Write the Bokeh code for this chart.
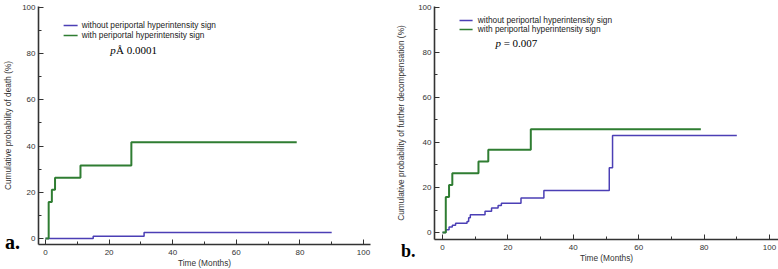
from bokeh.plotting import figure
from bokeh.layouts import row
from bokeh.models import SingleIntervalTicker, Div
from bokeh.core.properties import value
from bokeh.embed import file_html
from bokeh.resources import INLINE

# ---------------- data ----------------
# Panel a: cumulative probability of death (%)
a_without_t = [0, 15, 31, 90]
a_without_v = [0, 1.0, 2.6, 2.6]
a_with_t = [0, 1, 2, 3, 11, 27, 79]
a_with_v = [0, 15.8, 21.1, 26.3, 31.6, 41.6, 41.6]

# Panel b: cumulative probability of further decompensation (%)
b_without_t = [0, 1, 2, 3, 4, 7.5, 8, 8.5, 13, 15, 17, 18, 24, 31, 51, 52, 90]
b_without_v = [0, 1.2, 2.4, 3.2, 4.1, 4.9, 6.6, 7.9, 9.4, 10.9, 12.0, 13.0, 15.3, 18.7, 28.8, 43.1, 43.1]
b_with_t = [0, 1, 2, 3, 11, 14, 27, 79]
b_with_v = [0, 15.8, 21.1, 26.3, 31.6, 36.8, 45.9, 45.9]

legend_labels = ["without periportal hyperintensity sign", "with periportal hyperintensity sign"]
p_values = ["\u00c5 0.0001", "= 0.007"]
panel_tags = ["a.", "b."]
y_titles = ["Cumulative probability of death (%)",
            "Cumulative probability of further decompensation (%)"]
x_title = "Time (Months)"

BLUE = "#4B3FB5"
GREEN = "#2F7D32"
AXIS = "#333333"
SANS = "Liberation Sans"
SERIF = "Liberation Serif"


def make_panel(fw, fh, x_range, y_range, borders, ylab, ylab_standoff):
    left, right, top, bottom = borders
    p = figure(frame_width=fw, frame_height=fh, x_range=x_range, y_range=y_range,
               output_backend="svg", toolbar_location=None,
               min_border_left=left, min_border_right=right,
               min_border_top=top, min_border_bottom=bottom)
    p.outline_line_color = None
    p.grid.grid_line_color = None
    p.background_fill_color = "white"
    p.border_fill_color = "white"
    for ax in (p.xaxis[0], p.yaxis[0]):
        ax.ticker = SingleIntervalTicker(interval=20, num_minor_ticks=2)
        ax.axis_line_color = AXIS
        ax.axis_line_width = 1.6
        ax.major_tick_line_color = AXIS
        ax.minor_tick_line_color = AXIS
        ax.major_tick_in = 5
        ax.major_tick_out = 0
        ax.minor_tick_in = 3
        ax.minor_tick_out = 0
        ax.major_label_text_font = SANS
        ax.major_label_text_font_size = "8px"
        ax.major_label_text_color = AXIS
        ax.major_label_standoff = 3
        ax.axis_label_text_font = SANS
        ax.axis_label_text_font_size = "8.3px"
        ax.axis_label_text_font_style = "normal"
        ax.axis_label_text_color = AXIS
    p.xaxis.major_label_standoff = 5
    p.xaxis.axis_label = x_title
    p.xaxis.axis_label_standoff = 0
    p.yaxis.axis_label = ylab
    p.yaxis.axis_label_standoff = ylab_standoff
    return p


def add_legend_and_p(p, lx0, lx1, ltx, ly, px, pdx, py, ptext):
    for y, c, lab in zip(ly, [BLUE, GREEN], legend_labels):
        p.segment(x0=[lx0], y0=[y], x1=[lx1], y1=[y], line_color=c, line_width=1.5)
        p.text(x=[ltx], y=[y], text=[lab], text_font=value(SANS),
               text_font_size="8.3px", text_color="#222222", text_baseline="middle")
    p.text(x=[px], y=[py], text=["p"], text_font=value(SERIF), text_font_style="italic",
           text_font_size="11px", text_color="black", text_baseline="middle")
    p.text(x=[px + pdx], y=[py], text=[ptext], text_font=value(SERIF),
           text_font_size="11px", text_color="black", text_baseline="middle")


def tag(text, left, top, size):
    return Div(text=text, width=24, height=24,
               styles={"position": "absolute", "left": f"{left}px", "top": f"{top}px",
                       "font-family": SERIF, "font-size": f"{size}px",
                       "font-weight": "bold", "color": "black"})


# ---------------- panel a ----------------
pa = make_panel(332, 238, (-2.2, 102.2), (-2.6, 100.4), (38, 19, 5, 26), y_titles[0], 6)
pa.step(a_without_t, a_without_v, mode="after", line_color=BLUE, line_width=1.5)
pa.step(a_with_t, a_with_v, mode="after", line_color=GREEN, line_width=2)
add_legend_and_p(pa, 5.7, 10.1, 11.4, [92.2, 87.9], 20.4, 1.75, 81.4, p_values[0])

# ---------------- panel b ----------------
pb = make_panel(344, 233, (-2.45, 102.75), (-3.1, 100.4), (45, 0, 6, 30), y_titles[1], 9)
pb.step(b_without_t, b_without_v, mode="after", line_color=BLUE, line_width=1.5)
pb.step(b_with_t, b_with_v, mode="after", line_color=GREEN, line_width=2)
add_legend_and_p(pb, 5.2, 9.2, 10.8, [94.2, 90.2], 16.2, 2.5, 84.0, p_values[1])

tag_a = tag(panel_tags[0], 0, 223, 20)
tag_b = tag(panel_tags[1], 396, 234, 18)

layout = row(pa, pb, tag_a, tag_b)
open("out.html", "w").write(file_html(layout, INLINE))
